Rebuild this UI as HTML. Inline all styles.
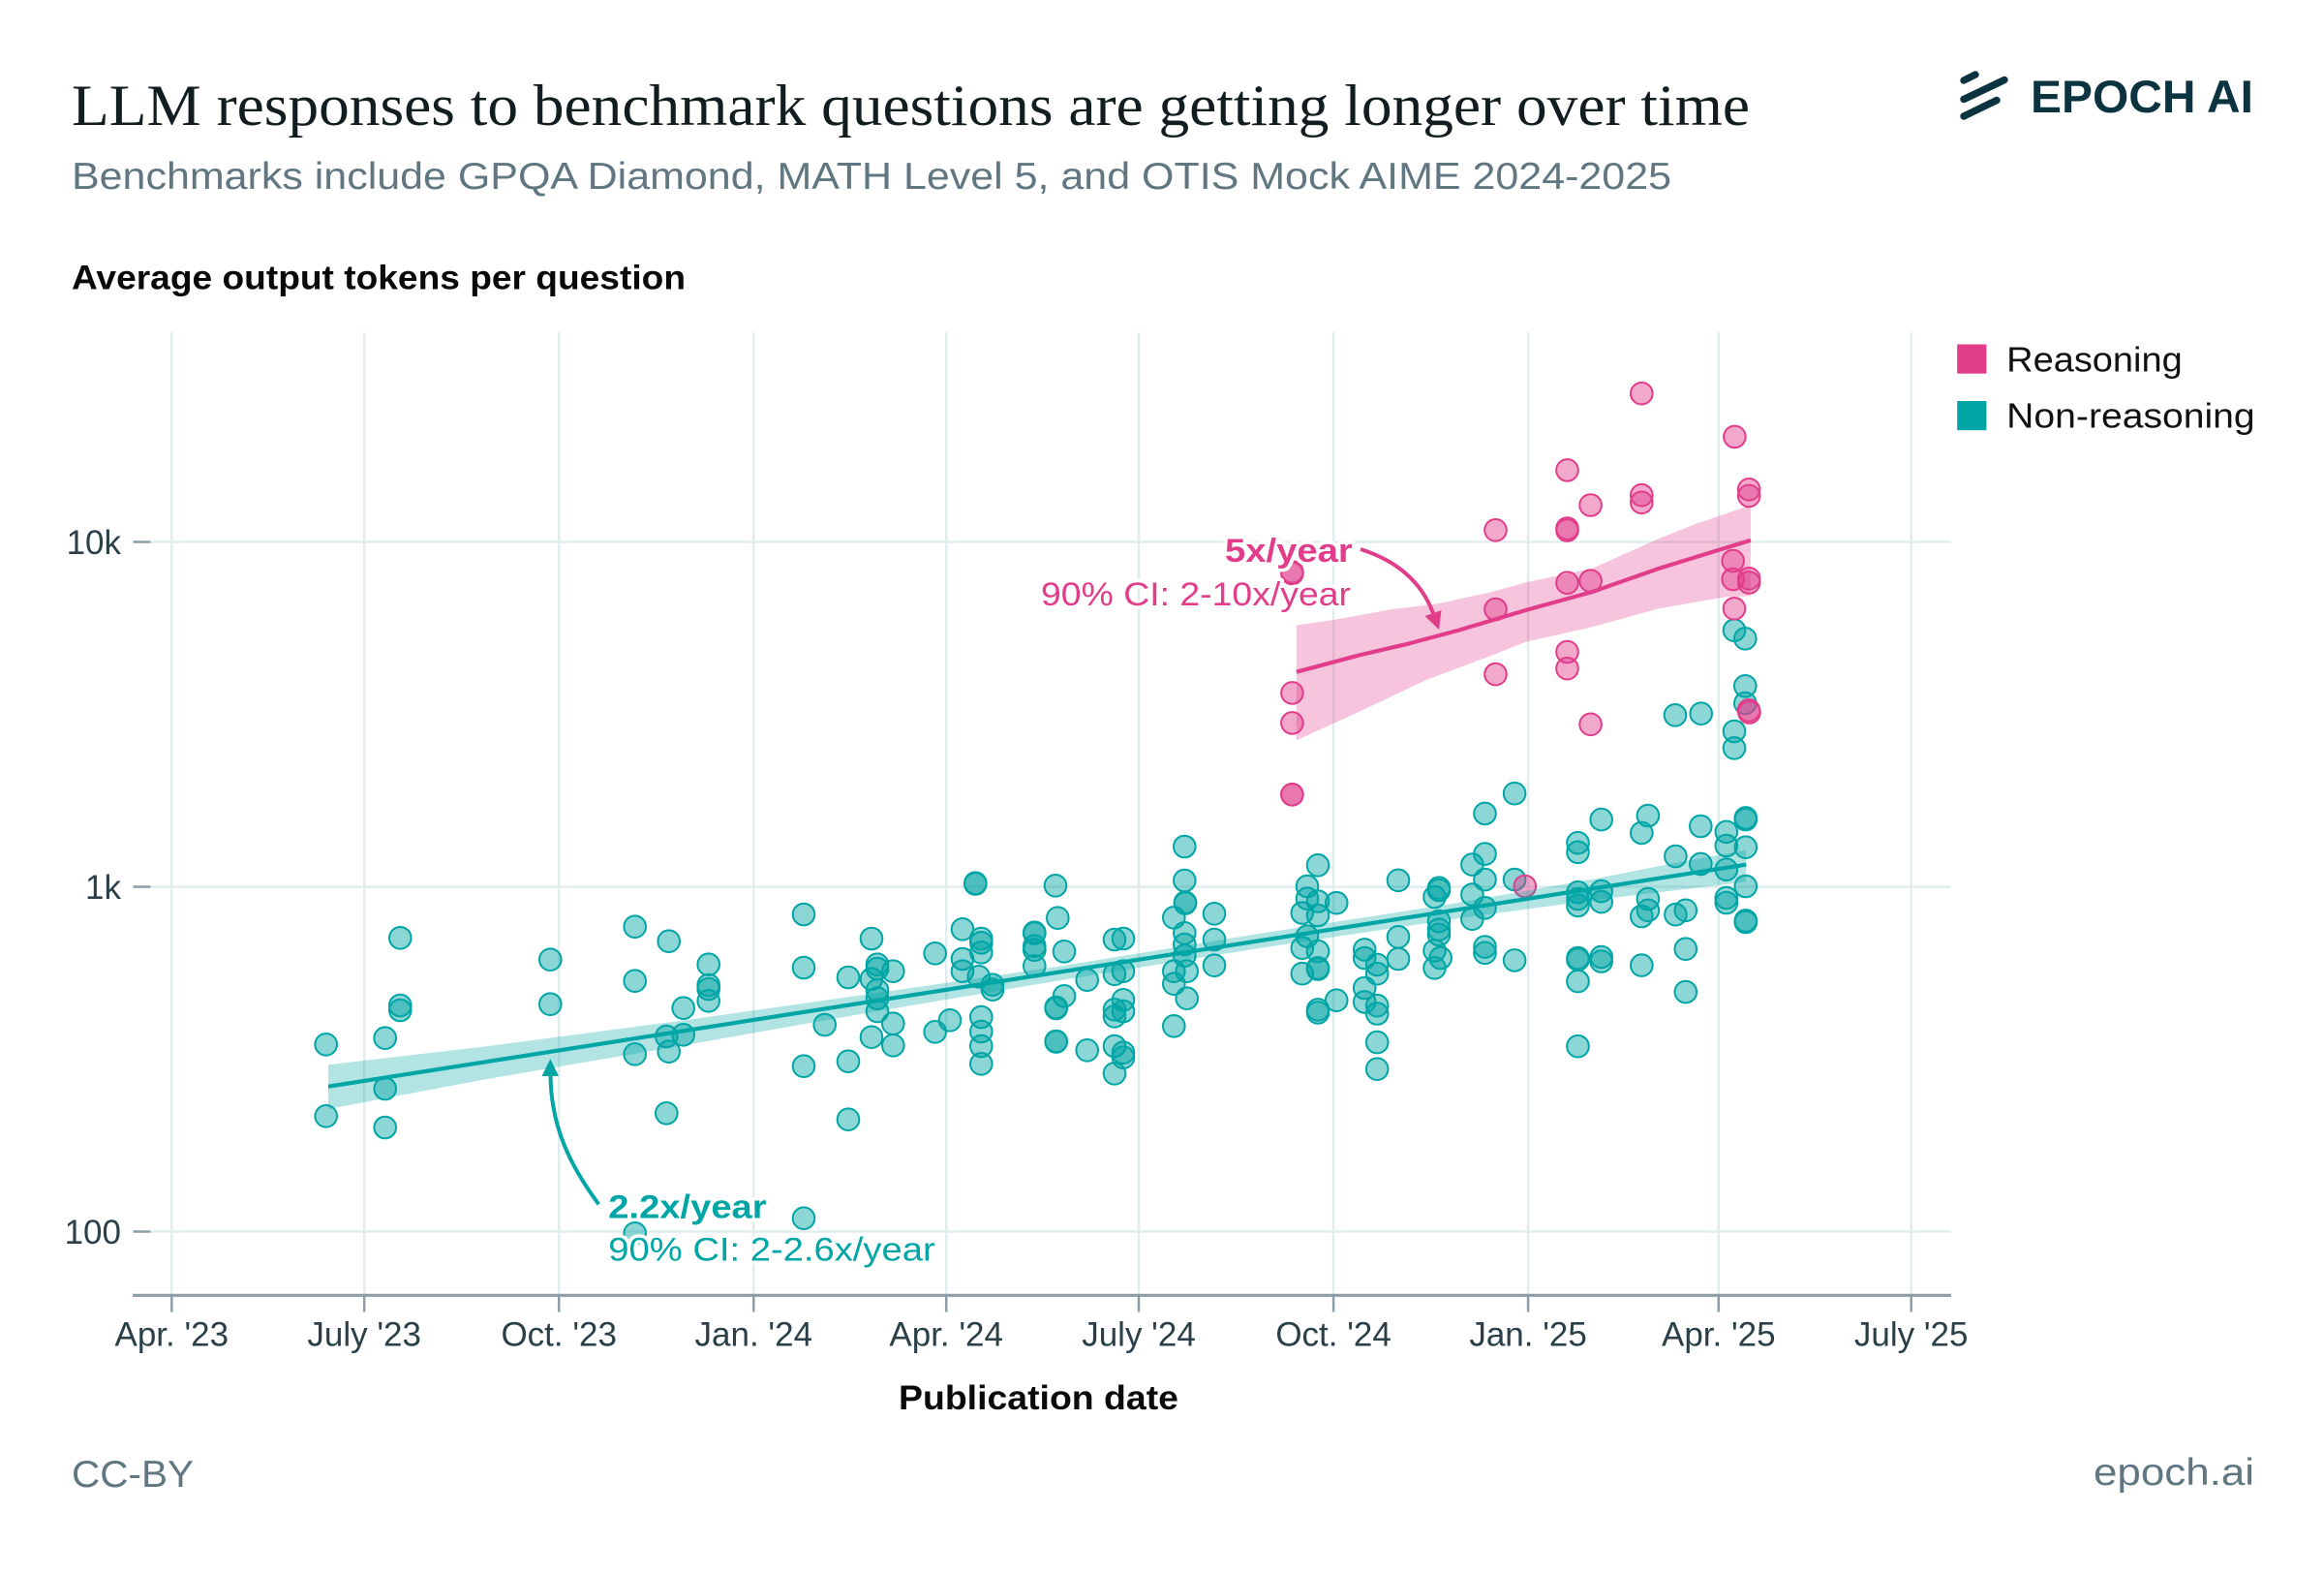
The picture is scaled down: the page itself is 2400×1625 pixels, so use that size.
<!DOCTYPE html>
<html>
<head>
<meta charset="utf-8">
<style>
html,body{margin:0;padding:0;background:#fff;}
svg{display:block;}
</style>
</head>
<body>
<svg width="2400" height="1625" viewBox="0 0 2400 1625" xmlns="http://www.w3.org/2000/svg" font-family="Liberation Sans, Arial, sans-serif">
<rect x="0" y="0" width="2400" height="1625" fill="#ffffff"/>

<text x="74" y="129" style="font-family:'Liberation Serif',serif" font-size="60" fill="#121d20" textLength="1733" lengthAdjust="spacingAndGlyphs">LLM responses to benchmark questions are getting longer over time</text>
<text x="74" y="195" font-size="39" fill="#607680" textLength="1652" lengthAdjust="spacingAndGlyphs">Benchmarks include GPQA Diamond, MATH Level 5, and OTIS Mock AIME 2024-2025</text>

<g stroke="#0b3340" stroke-width="7.4" stroke-linecap="round" fill="none">
<line x1="2028" y1="83" x2="2040" y2="77"/>
<line x1="2028" y1="102.5" x2="2070" y2="82.5"/>
<line x1="2028" y1="120" x2="2062" y2="103.5"/>
</g>
<text x="2097" y="116.2" font-size="47" font-weight="bold" fill="#0b3340" textLength="230" lengthAdjust="spacingAndGlyphs">EPOCH AI</text>

<text x="74" y="298.3" font-size="35" font-weight="bold" fill="#0a0a0a" textLength="634" lengthAdjust="spacingAndGlyphs">Average output tokens per question</text>

<rect x="2021.2" y="355.5" width="30.2" height="30.2" fill="#e13d8b"/>
<rect x="2021.2" y="414" width="30.2" height="30.2" fill="#00a5a5"/>
<text x="2072.2" y="383.3" font-size="36" fill="#111" textLength="181.5" lengthAdjust="spacingAndGlyphs">Reasoning</text>
<text x="2072.2" y="441.5" font-size="36" fill="#111" textLength="256.5" lengthAdjust="spacingAndGlyphs">Non-reasoning</text>

<g stroke="#e1eded" stroke-width="2.4">
<line x1="177.3" y1="343" x2="177.3" y2="1337"/>
<line x1="376.2" y1="343" x2="376.2" y2="1337"/>
<line x1="577.2" y1="343" x2="577.2" y2="1337"/>
<line x1="778.3" y1="343" x2="778.3" y2="1337"/>
<line x1="977.2" y1="343" x2="977.2" y2="1337"/>
<line x1="1176" y1="343" x2="1176" y2="1337"/>
<line x1="1377.1" y1="343" x2="1377.1" y2="1337"/>
<line x1="1578.1" y1="343" x2="1578.1" y2="1337"/>
<line x1="1774.8" y1="343" x2="1774.8" y2="1337"/>
<line x1="1973.7" y1="343" x2="1973.7" y2="1337"/>
<line x1="156" y1="559.5" x2="2015" y2="559.5"/>
<line x1="156" y1="915.5" x2="2015" y2="915.5"/>
<line x1="156" y1="1271.5" x2="2015" y2="1271.5"/>
</g>

<g stroke="#8c9ea5" stroke-width="2.5">
<line x1="137.5" y1="559.5" x2="155.5" y2="559.5"/>
<line x1="137.5" y1="915.5" x2="155.5" y2="915.5"/>
<line x1="137.5" y1="1271.5" x2="155.5" y2="1271.5"/>
<line x1="177.3" y1="1337" x2="177.3" y2="1354.5"/>
<line x1="376.2" y1="1337" x2="376.2" y2="1354.5"/>
<line x1="577.2" y1="1337" x2="577.2" y2="1354.5"/>
<line x1="778.3" y1="1337" x2="778.3" y2="1354.5"/>
<line x1="977.2" y1="1337" x2="977.2" y2="1354.5"/>
<line x1="1176" y1="1337" x2="1176" y2="1354.5"/>
<line x1="1377.1" y1="1337" x2="1377.1" y2="1354.5"/>
<line x1="1578.1" y1="1337" x2="1578.1" y2="1354.5"/>
<line x1="1774.8" y1="1337" x2="1774.8" y2="1354.5"/>
<line x1="1973.7" y1="1337" x2="1973.7" y2="1354.5"/>
</g>
<line x1="137" y1="1337.3" x2="2015" y2="1337.3" stroke="#8c9ea5" stroke-width="3.2"/>

<g font-size="35" fill="#2a3f48" text-anchor="end">
<text x="125" y="572">10k</text>
<text x="125" y="928">1k</text>
<text x="125" y="1284">100</text>
</g>
<g font-size="35" fill="#2a3f48" text-anchor="middle">
<text x="177.3" y="1389.3">Apr. '23</text>
<text x="376.2" y="1389.3">July '23</text>
<text x="577.2" y="1389.3">Oct. '23</text>
<text x="778.3" y="1389.3">Jan. '24</text>
<text x="977.2" y="1389.3">Apr. '24</text>
<text x="1176" y="1389.3">July '24</text>
<text x="1377.1" y="1389.3">Oct. '24</text>
<text x="1578.1" y="1389.3">Jan. '25</text>
<text x="1774.8" y="1389.3">Apr. '25</text>
<text x="1973.7" y="1389.3">July '25</text>
</g>
<text x="928" y="1455" font-size="35" font-weight="bold" fill="#0a0a0a" textLength="289" lengthAdjust="spacingAndGlyphs">Publication date</text>

<text x="74" y="1535" font-size="39" fill="#607680" textLength="126" lengthAdjust="spacingAndGlyphs">CC-BY</text>
<text x="2162" y="1533" font-size="39" fill="#607680" textLength="166" lengthAdjust="spacingAndGlyphs">epoch.ai</text>

<g fill="#00a5a5" fill-opacity="0.45" stroke="#00a5a5" stroke-width="2">
<circle cx="336.7" cy="1078.3" r="11.3"/>
<circle cx="336.7" cy="1152.3" r="11.3"/>
<circle cx="413.3" cy="968.3" r="11.3"/>
<circle cx="413.3" cy="1038" r="11.3"/>
<circle cx="413.3" cy="1043" r="11.3"/>
<circle cx="397.7" cy="1071.7" r="11.3"/>
<circle cx="397.7" cy="1124" r="11.3"/>
<circle cx="397.7" cy="1164" r="11.3"/>
<circle cx="568.3" cy="990.7" r="11.3"/>
<circle cx="568.3" cy="1036.7" r="11.3"/>
<circle cx="655.7" cy="956.7" r="11.3"/>
<circle cx="655.7" cy="1012.7" r="11.3"/>
<circle cx="655.7" cy="1088.3" r="11.3"/>
<circle cx="690.7" cy="971.7" r="11.3"/>
<circle cx="688.3" cy="1070" r="11.3"/>
<circle cx="690.7" cy="1085.7" r="11.3"/>
<circle cx="688.3" cy="1149.3" r="11.3"/>
<circle cx="705.7" cy="1040.7" r="11.3"/>
<circle cx="705.7" cy="1068.3" r="11.3"/>
<circle cx="731.7" cy="995.7" r="11.3"/>
<circle cx="731.7" cy="1017" r="11.3"/>
<circle cx="731.7" cy="1021" r="11.3"/>
<circle cx="731.7" cy="1033.3" r="11.3"/>
<circle cx="655.7" cy="1273.3" r="11.3"/>
<circle cx="830" cy="944" r="11.3"/>
<circle cx="830" cy="999" r="11.3"/>
<circle cx="830" cy="1100.7" r="11.3"/>
<circle cx="830" cy="1257.7" r="11.3"/>
<circle cx="851.7" cy="1058" r="11.3"/>
<circle cx="876" cy="1009" r="11.3"/>
<circle cx="876" cy="1095.7" r="11.3"/>
<circle cx="876" cy="1155.7" r="11.3"/>
<circle cx="900" cy="969" r="11.3"/>
<circle cx="906" cy="995.7" r="11.3"/>
<circle cx="906" cy="1000" r="11.3"/>
<circle cx="900" cy="1010.7" r="11.3"/>
<circle cx="906" cy="1022.3" r="11.3"/>
<circle cx="906" cy="1030.7" r="11.3"/>
<circle cx="906" cy="1044" r="11.3"/>
<circle cx="922.3" cy="1002.7" r="11.3"/>
<circle cx="922.3" cy="1056.7" r="11.3"/>
<circle cx="922.3" cy="1079.3" r="11.3"/>
<circle cx="900" cy="1070.7" r="11.3"/>
<circle cx="965.7" cy="984.3" r="11.3"/>
<circle cx="965.7" cy="1065.3" r="11.3"/>
<circle cx="981" cy="1053.3" r="11.3"/>
<circle cx="994" cy="959.3" r="11.3"/>
<circle cx="994" cy="990" r="11.3"/>
<circle cx="994" cy="1002.7" r="11.3"/>
<circle cx="1007.3" cy="911.7" r="11.3"/>
<circle cx="1007.3" cy="912.5" r="11.3"/>
<circle cx="1013.3" cy="969" r="11.3"/>
<circle cx="1013.3" cy="973.3" r="11.3"/>
<circle cx="1013.3" cy="983.3" r="11.3"/>
<circle cx="1010.7" cy="1008.3" r="11.3"/>
<circle cx="1025" cy="1016.7" r="11.3"/>
<circle cx="1025" cy="1021.7" r="11.3"/>
<circle cx="1013.3" cy="1050" r="11.3"/>
<circle cx="1013.3" cy="1065" r="11.3"/>
<circle cx="1013.3" cy="1080" r="11.3"/>
<circle cx="1013.3" cy="1098.3" r="11.3"/>
<circle cx="1068.3" cy="962.7" r="11.3"/>
<circle cx="1068.3" cy="963.5" r="11.3"/>
<circle cx="1068.3" cy="976.7" r="11.3"/>
<circle cx="1068.3" cy="980.7" r="11.3"/>
<circle cx="1068.3" cy="997.3" r="11.3"/>
<circle cx="1090" cy="914.3" r="11.3"/>
<circle cx="1092.3" cy="947.7" r="11.3"/>
<circle cx="1099" cy="982.3" r="11.3"/>
<circle cx="1099" cy="1028.3" r="11.3"/>
<circle cx="1090.7" cy="1040" r="11.3"/>
<circle cx="1090.7" cy="1041" r="11.3"/>
<circle cx="1090.7" cy="1075" r="11.3"/>
<circle cx="1090.7" cy="1075.5" r="11.3"/>
<circle cx="1122.7" cy="1011.7" r="11.3"/>
<circle cx="1122.7" cy="1084.3" r="11.3"/>
<circle cx="1151" cy="970" r="11.3"/>
<circle cx="1160" cy="969" r="11.3"/>
<circle cx="1151" cy="1005.7" r="11.3"/>
<circle cx="1160" cy="1002.7" r="11.3"/>
<circle cx="1160" cy="1032.3" r="11.3"/>
<circle cx="1151" cy="1042.3" r="11.3"/>
<circle cx="1160" cy="1044" r="11.3"/>
<circle cx="1151" cy="1049.3" r="11.3"/>
<circle cx="1151" cy="1080" r="11.3"/>
<circle cx="1160" cy="1086.7" r="11.3"/>
<circle cx="1160" cy="1091.7" r="11.3"/>
<circle cx="1151" cy="1108.3" r="11.3"/>
<circle cx="1223.3" cy="874" r="11.3"/>
<circle cx="1223.3" cy="909" r="11.3"/>
<circle cx="1224" cy="931.7" r="11.3"/>
<circle cx="1224" cy="932.5" r="11.3"/>
<circle cx="1212.3" cy="947.3" r="11.3"/>
<circle cx="1223.3" cy="963.3" r="11.3"/>
<circle cx="1223.3" cy="975" r="11.3"/>
<circle cx="1223.3" cy="986.7" r="11.3"/>
<circle cx="1212.3" cy="1002.7" r="11.3"/>
<circle cx="1225.7" cy="1002.7" r="11.3"/>
<circle cx="1212.3" cy="1015.7" r="11.3"/>
<circle cx="1225.7" cy="1030.7" r="11.3"/>
<circle cx="1212.3" cy="1059.3" r="11.3"/>
<circle cx="1254" cy="943.3" r="11.3"/>
<circle cx="1254" cy="970" r="11.3"/>
<circle cx="1254" cy="996.7" r="11.3"/>
<circle cx="1361" cy="893.3" r="11.3"/>
<circle cx="1350" cy="915" r="11.3"/>
<circle cx="1350" cy="927.7" r="11.3"/>
<circle cx="1344.8" cy="942.5" r="11.3"/>
<circle cx="1361" cy="930.5" r="11.3"/>
<circle cx="1361" cy="945" r="11.3"/>
<circle cx="1380.2" cy="932.2" r="11.3"/>
<circle cx="1350" cy="966.6" r="11.3"/>
<circle cx="1344.8" cy="978.7" r="11.3"/>
<circle cx="1361" cy="982.1" r="11.3"/>
<circle cx="1361" cy="999.3" r="11.3"/>
<circle cx="1361" cy="1000.5" r="11.3"/>
<circle cx="1344.8" cy="1005.2" r="11.3"/>
<circle cx="1380.2" cy="1032.7" r="11.3"/>
<circle cx="1361" cy="1042.4" r="11.3"/>
<circle cx="1361" cy="1045.4" r="11.3"/>
<circle cx="1409.2" cy="980.4" r="11.3"/>
<circle cx="1409.2" cy="989" r="11.3"/>
<circle cx="1422.2" cy="995.9" r="11.3"/>
<circle cx="1422.2" cy="1005.2" r="11.3"/>
<circle cx="1409.2" cy="1020" r="11.3"/>
<circle cx="1409.2" cy="1034.4" r="11.3"/>
<circle cx="1422.2" cy="1038.2" r="11.3"/>
<circle cx="1422.2" cy="1046.5" r="11.3"/>
<circle cx="1422.2" cy="1076.1" r="11.3"/>
<circle cx="1422.2" cy="1103.7" r="11.3"/>
<circle cx="1444" cy="908.8" r="11.3"/>
<circle cx="1444" cy="967.3" r="11.3"/>
<circle cx="1444" cy="990" r="11.3"/>
<circle cx="1486" cy="916.7" r="11.3"/>
<circle cx="1486" cy="919" r="11.3"/>
<circle cx="1481.5" cy="926" r="11.3"/>
<circle cx="1486" cy="951.1" r="11.3"/>
<circle cx="1486" cy="959.7" r="11.3"/>
<circle cx="1486" cy="964.9" r="11.3"/>
<circle cx="1481.5" cy="981.4" r="11.3"/>
<circle cx="1487.7" cy="989" r="11.3"/>
<circle cx="1481.5" cy="999.3" r="11.3"/>
<circle cx="1520.4" cy="892.6" r="11.3"/>
<circle cx="1533.5" cy="881.6" r="11.3"/>
<circle cx="1533.5" cy="908.1" r="11.3"/>
<circle cx="1520.4" cy="923.6" r="11.3"/>
<circle cx="1533.5" cy="937.3" r="11.3"/>
<circle cx="1520.4" cy="948.7" r="11.3"/>
<circle cx="1533.5" cy="839.9" r="11.3"/>
<circle cx="1564.1" cy="819.2" r="11.3"/>
<circle cx="1564.1" cy="908.1" r="11.3"/>
<circle cx="1533.5" cy="977.6" r="11.3"/>
<circle cx="1533.5" cy="983.8" r="11.3"/>
<circle cx="1564.1" cy="991.4" r="11.3"/>
<circle cx="1629.5" cy="870.2" r="11.3"/>
<circle cx="1629.5" cy="879.8" r="11.3"/>
<circle cx="1629.5" cy="921.2" r="11.3"/>
<circle cx="1629.5" cy="928" r="11.3"/>
<circle cx="1629.5" cy="934.9" r="11.3"/>
<circle cx="1653.7" cy="920.1" r="11.3"/>
<circle cx="1653.7" cy="931.1" r="11.3"/>
<circle cx="1629.5" cy="989" r="11.3"/>
<circle cx="1629.5" cy="990.7" r="11.3"/>
<circle cx="1653.7" cy="988" r="11.3"/>
<circle cx="1653.7" cy="992.5" r="11.3"/>
<circle cx="1629.5" cy="1013.1" r="11.3"/>
<circle cx="1629.5" cy="1080.2" r="11.3"/>
<circle cx="1653.7" cy="846.1" r="11.3"/>
<circle cx="1701.9" cy="842" r="11.3"/>
<circle cx="1695.3" cy="859.9" r="11.3"/>
<circle cx="1701.9" cy="928" r="11.3"/>
<circle cx="1701.9" cy="939.8" r="11.3"/>
<circle cx="1695.3" cy="946" r="11.3"/>
<circle cx="1695.3" cy="996.6" r="11.3"/>
<circle cx="1730.4" cy="884" r="11.3"/>
<circle cx="1756.3" cy="853" r="11.3"/>
<circle cx="1756.3" cy="891.9" r="11.3"/>
<circle cx="1730.4" cy="944.2" r="11.3"/>
<circle cx="1740.8" cy="939.8" r="11.3"/>
<circle cx="1740.8" cy="979.7" r="11.3"/>
<circle cx="1740.8" cy="1024.1" r="11.3"/>
<circle cx="1782.8" cy="858.8" r="11.3"/>
<circle cx="1782.8" cy="873" r="11.3"/>
<circle cx="1782.8" cy="897.7" r="11.3"/>
<circle cx="1782.8" cy="927" r="11.3"/>
<circle cx="1782.8" cy="932" r="11.3"/>
<circle cx="1802.8" cy="844.4" r="11.3"/>
<circle cx="1802.8" cy="846" r="11.3"/>
<circle cx="1802.8" cy="874.7" r="11.3"/>
<circle cx="1802.8" cy="915" r="11.3"/>
<circle cx="1802.8" cy="950.4" r="11.3"/>
<circle cx="1802.8" cy="952" r="11.3"/>
<circle cx="1791" cy="650.7" r="11.3"/>
<circle cx="1802.3" cy="659.3" r="11.3"/>
<circle cx="1802.3" cy="708.3" r="11.3"/>
<circle cx="1802.3" cy="726" r="11.3"/>
<circle cx="1730" cy="738.3" r="11.3"/>
<circle cx="1756.7" cy="736.7" r="11.3"/>
<circle cx="1791" cy="755" r="11.3"/>
<circle cx="1791" cy="772.3" r="11.3"/>
</g>

<g fill="#e13d8b" fill-opacity="0.45" stroke="#e13d8b" stroke-width="2">
<circle cx="1334.4" cy="820.3" r="11.3"/>
<circle cx="1334.4" cy="820.3" r="11.3"/>
<circle cx="1574.8" cy="915" r="11.3"/>
<circle cx="1695.3" cy="406.2" r="11.3"/>
<circle cx="1791.4" cy="450.9" r="11.3"/>
<circle cx="1618.5" cy="485.4" r="11.3"/>
<circle cx="1642.6" cy="521.5" r="11.3"/>
<circle cx="1695.3" cy="511.2" r="11.3"/>
<circle cx="1695.3" cy="518.8" r="11.3"/>
<circle cx="1806.2" cy="505.3" r="11.3"/>
<circle cx="1806.2" cy="511.9" r="11.3"/>
<circle cx="1544.5" cy="547.3" r="11.3"/>
<circle cx="1618.5" cy="545.6" r="11.3"/>
<circle cx="1618.5" cy="547.5" r="11.3"/>
<circle cx="1334.4" cy="590.4" r="11.3"/>
<circle cx="1334.4" cy="592" r="11.3"/>
<circle cx="1789.7" cy="579" r="11.3"/>
<circle cx="1789.7" cy="598" r="11.3"/>
<circle cx="1806.2" cy="597.3" r="11.3"/>
<circle cx="1806.2" cy="601.4" r="11.3"/>
<circle cx="1618.5" cy="601.7" r="11.3"/>
<circle cx="1642.6" cy="599.7" r="11.3"/>
<circle cx="1544.5" cy="629" r="11.3"/>
<circle cx="1791" cy="628.3" r="11.3"/>
<circle cx="1618.5" cy="673" r="11.3"/>
<circle cx="1618.5" cy="690.2" r="11.3"/>
<circle cx="1544.5" cy="696.1" r="11.3"/>
<circle cx="1334.4" cy="715.4" r="11.3"/>
<circle cx="1334.4" cy="746.4" r="11.3"/>
<circle cx="1642.6" cy="747.8" r="11.3"/>
<circle cx="1806" cy="733.3" r="11.3"/>
<circle cx="1806.5" cy="735.5" r="11.3"/>
</g>

<polygon fill="#00a5a5" fill-opacity="0.3" points="339,1099.3 500,1080.5 700,1054.2 900,1026 1100,996.7 1300,964 1500,933 1650,906.7 1730,890.9 1803,877.8 1803,910.5 1650,928.7 1500,949 1300,979 1100,1011.2 900,1045 700,1080.2 500,1114.5 339,1145"/>
<polygon fill="#e13d8b" fill-opacity="0.3" points="1338.9,645.5 1375.8,640.3 1437.7,629 1486,623.1 1541,611 1575.5,601.4 1644.4,586.9 1713.2,556 1747.7,542.2 1807.9,521.5 1807.9,615.2 1782.1,616.2 1713.2,628.3 1644.4,647.2 1575.5,662.7 1541,676.5 1472.2,702.3 1403.3,735 1338.9,764.3"/>

<line x1="339" y1="1121.7" x2="1803.4" y2="892.6" stroke="#00a5a5" stroke-width="4.2"/>
<polyline fill="none" stroke="#e13d8b" stroke-width="4.2" stroke-linejoin="round" points="1338.9,693.7 1403.3,676.5 1455,664.4 1506.6,650.6 1575.5,630 1644.4,611 1713.2,586.9 1807.9,557.7"/>

<path d="M 618.3 1243.3 C 590 1205, 569 1165, 568.5 1110" fill="none" stroke="#00a5a5" stroke-width="4"/>
<polygon points="568.3,1093.3 559.5,1111 577,1111" fill="#00a5a5"/>
<path d="M 1405 567 Q 1462 585 1480 633" fill="none" stroke="#e13d8b" stroke-width="4"/>
<polygon points="1486,650 1471.5,636 1488.5,630" fill="#e13d8b"/>

<g stroke="#ffffff" stroke-width="7" stroke-linejoin="round" paint-order="stroke">
<text x="628.3" y="1257.3" font-size="34" font-weight="bold" fill="#00a5a5" textLength="163.3" lengthAdjust="spacingAndGlyphs">2.2x/year</text>
<text x="628.3" y="1301.7" font-size="34" fill="#00a5a5" textLength="337.4" lengthAdjust="spacingAndGlyphs">90% CI: 2-2.6x/year</text>
<text x="1265" y="580" font-size="34" font-weight="bold" fill="#e13d8b" textLength="131.7" lengthAdjust="spacingAndGlyphs">5x/year</text>
<text x="1075" y="625" font-size="34" fill="#e13d8b" textLength="320" lengthAdjust="spacingAndGlyphs">90% CI: 2-10x/year</text>
</g>
</svg>
</body>
</html>
